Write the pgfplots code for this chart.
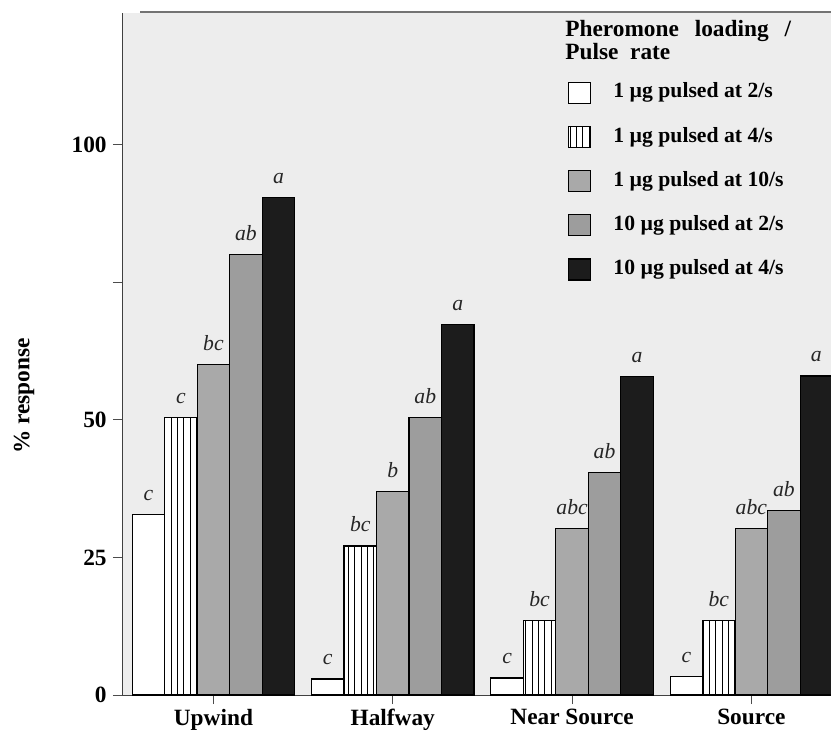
\documentclass[border=0pt]{standalone}
\usepackage{fontspec}
\setmainfont{Liberation Serif}
\usepackage{pgfplots}
\usepackage{pgfplotstable}
\pgfplotsset{compat=1.18}
\usetikzlibrary{patterns.meta}
\definecolor{bggray}{HTML}{EDEDED}
\definecolor{midgray}{HTML}{A9A9A9}
\definecolor{midgrayb}{HTML}{9D9D9D}
\definecolor{darkbar}{HTML}{1C1C1C}

\pgfplotstableread{
x y l
0 32.8 c
1 2.9 c
2 3.1 c
3 3.3 c
}\sA
\pgfplotstableread{
x y l
0 50.4 c
1 27.1 bc
2 13.5 bc
3 13.6 bc
}\sB
\pgfplotstableread{
x y l
0 60.1 bc
1 37.0 b
2 30.2 abc
3 30.3 abc
}\sC
\pgfplotstableread{
x y l
0 80.1 ab
1 50.5 ab
2 40.5 ab
3 33.5 ab
}\sD
\pgfplotstableread{
x y l
0 90.5 a
1 67.3 a
2 57.9 a
3 58.0 a
}\sE

\begin{document}
\begin{tikzpicture}[x=1pt,y=1pt]
\path[use as bounding box] (0,0) rectangle (498.6,439.8);
\begin{axis}[
  at={(73.2pt,22.8pt)}, anchor=south west,
  scale only axis, width=425.4pt, height=409.2pt,
  xmin=-0.510, xmax=3.444, ymin=0, ymax=124,
  axis lines=left, axis line style={-, black!75, line width=0.6pt},
  axis background/.style={fill=bggray},
  ybar=0pt, bar width=19.5pt,
  xtick={0,1,2,3}, xticklabels={Upwind,Halfway,Near Source,Source},
  ytick={0,25,50,75,100}, yticklabels={0,25,50,,100},
  /pgf/number format/assume math mode=true,
  tick align=outside, major tick length=5.4pt,
  tick style={black!70, line width=0.6pt},
  xticklabel style={font=\fontsize{14}{16}\selectfont\bfseries, inner sep=0pt, anchor=north, yshift=-3pt},
  yticklabel style={font=\fontsize{14}{16}\selectfont\bfseries, inner sep=0pt, anchor=east, xshift=-3.6pt},
  point meta=explicit symbolic,
  nodes near coords={\pgfplotspointmeta},
  every node near coord/.append style={font=\fontsize{13}{15}\selectfont\itshape, anchor=south, inner sep=0pt, yshift=8pt, black!85},
  legend image code/.code={\draw[#1] (0pt,-6.3pt) rectangle (13.2pt,6.3pt);},
  legend style={at={(0.629,0.8996)}, anchor=north west, draw=none, fill=none,
    font=\fontsize{13}{15}\selectfont\bfseries, row sep=13.2pt, column sep=13.2pt,
    inner sep=0pt, nodes={inner sep=0pt, text height=9pt, text depth=3pt}},
  legend cell align=left,
]
\addplot[draw=black, fill=white, line width=0.7pt] table[x=x,y=y,meta=l]{\sA};
\addlegendentry{1 µg pulsed at 2/s}
\addplot[draw=black, fill=white, line width=0.7pt, postaction={pattern={Lines[angle=90,distance=3.8pt,line width=0.6pt]}}] table[x=x,y=y,meta=l]{\sB};
\addlegendentry{1 µg pulsed at 4/s}
\addplot[draw=black, fill=midgray, line width=0.7pt] table[x=x,y=y,meta=l]{\sC};
\addlegendentry{1 µg pulsed at 10/s}
\addplot[draw=black, fill=midgrayb, line width=0.7pt] table[x=x,y=y,meta=l]{\sD};
\addlegendentry{10 µg pulsed at 2/s}
\addplot[draw=black, fill=darkbar, line width=0.7pt] table[x=x,y=y,meta=l]{\sE};
\addlegendentry{10 µg pulsed at 4/s}
\end{axis}
\draw[black!55, line width=0.8pt] (84,432.6) -- (498.6,432.6);
\node[anchor=base west, font=\fontsize{14}{16}\selectfont\bfseries, inner sep=0pt] at (339,417.6) {Pheromone\hspace{9.5pt}loading\hspace{9.5pt}/};
\node[anchor=base west, font=\fontsize{14}{16}\selectfont\bfseries, inner sep=0pt] at (339,404.0) {Pulse\hspace{7pt}rate};
\node[rotate=90, font=\fontsize{14}{16}\selectfont\bfseries, inner sep=0pt] at (14.4,202.2) {\% response};
\end{tikzpicture}
\end{document}
